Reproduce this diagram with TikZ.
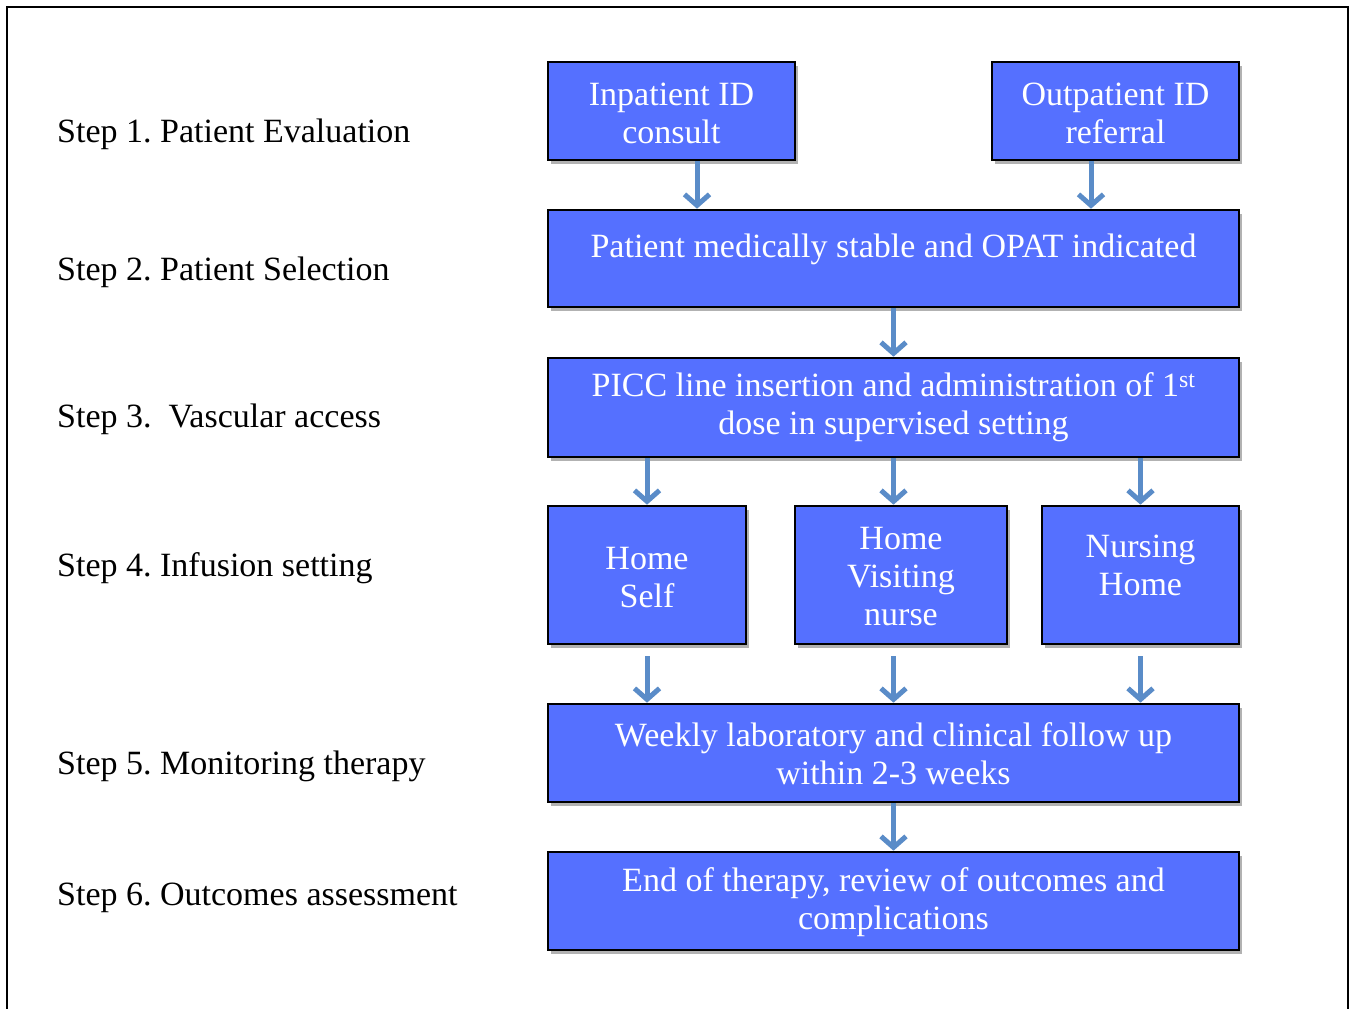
\documentclass[tikz,border=0pt]{standalone}
\usepackage{fontspec}
\setmainfont{Liberation Serif}
\usetikzlibrary{arrows.meta,shadows}
\definecolor{boxblue}{HTML}{5570FF}
\definecolor{arrblue}{HTML}{5A8CC8}
\frenchspacing
\begin{document}
\begin{tikzpicture}[x=1pt,y=-1pt,
  box/.style={draw=black,line width=2.6pt,fill=boxblue,inner sep=0pt,
    drop shadow={shadow xshift=3pt,shadow yshift=-4pt,opacity=0.3,fill=black}},
  txt/.style={text=white,align=center,font=\fontsize{34}{38}\selectfont},
  steplbl/.style={anchor=west,inner sep=0pt,font=\fontsize{34}{38}\selectfont},
  arr/.style={draw=arrblue,line width=5pt,-{Straight Barb[length=11pt,width=25pt]}}]
\useasboundingbox (0,0) rectangle (1355,1009);
\fill[white] (0,0) rectangle (1355,1009);
\draw[line width=2.6pt] (7,1030) -- (7,7) -- (1348,7) -- (1348,1030);

% boxes
\node[box,minimum width=247,minimum height=98] (inp) at (671.5,111) {};
\node[box,minimum width=247,minimum height=98] (outp) at (1115.5,111) {};
\node[box,minimum width=691,minimum height=97] (stable) at (893.5,258.5) {};
\node[box,minimum width=691,minimum height=99] (picc) at (893.5,407.5) {};
\node[box,minimum width=198,minimum height=138] (home) at (647,575) {};
\node[box,minimum width=212,minimum height=138] (visit) at (901,575) {};
\node[box,minimum width=197,minimum height=138] (nurse) at (1140.5,575) {};
\node[box,minimum width=691,minimum height=98] (weekly) at (893.5,753) {};
\node[box,minimum width=691,minimum height=98] (endt) at (893.5,901) {};

% box texts
\node[txt] (tinp) at ([yshift=-2]inp.center) {Inpatient ID\\consult};
\node[txt] (toutp) at ([yshift=-2]outp.center) {Outpatient ID\\referral};
\node[txt] (tstable) at ([yshift=9]stable.center) {Patient medically stable and OPAT indicated};
\node[txt] (tpicc) at (picc.center) {PICC line insertion and administration of 1\textsuperscript{st}\\dose in supervised setting};
\node[txt] (thome) at ([yshift=-3]home.center) {Home\\Self};
\node[txt] (tvisit) at ([yshift=-2]visit.center) {Home\\Visiting\\nurse};
\node[txt] (tnurse) at ([yshift=10]nurse.center) {Nursing\\Home};
\node[txt] (tweekly) at ([yshift=-1]weekly.center) {Weekly laboratory and clinical follow up\\within 2-3 weeks};
\node[txt] (tendt) at ([yshift=-1]endt.center) {End of therapy, review of outcomes and\\complications};

% step labels
\node[steplbl] (s1) at (57,134) {Step 1. Patient Evaluation};
\node[steplbl] (s2) at (57,272) {Step 2. Patient Selection};
\node[steplbl] (s3) at (57,419) {Step 3.\ \ Vascular access};
\node[steplbl] (s4) at (57,568) {Step 4. Infusion setting};
\node[steplbl] (s5) at (57,766) {Step 5. Monitoring therapy};
\node[steplbl] (s6) at (57,898) {Step 6. Outcomes assessment};

% arrows
\draw[arr] ([xshift=25.5]inp.south) -- ([xshift=25.5]inp.south |- stable.north);
\draw[arr] ([xshift=-24.5]outp.south) -- ([xshift=-24.5]outp.south |- stable.north);
\draw[arr] (stable.south) -- (picc.north);
\draw[arr] (picc.south -| home.north) -- (home.north);
\draw[arr] (picc.south) -- (picc.south |- visit.north);
\draw[arr] (picc.south -| nurse.north) -- (nurse.north);
\draw[arr] ([yshift=-11]home.south) -- (home.south |- weekly.north);
\draw[arr] ([yshift=-11]visit.south -| weekly.north) -- (weekly.north);
\draw[arr] ([yshift=-11]nurse.south) -- (nurse.south |- weekly.north);
\draw[arr] (weekly.south) -- (endt.north);
\end{tikzpicture}
\end{document}
